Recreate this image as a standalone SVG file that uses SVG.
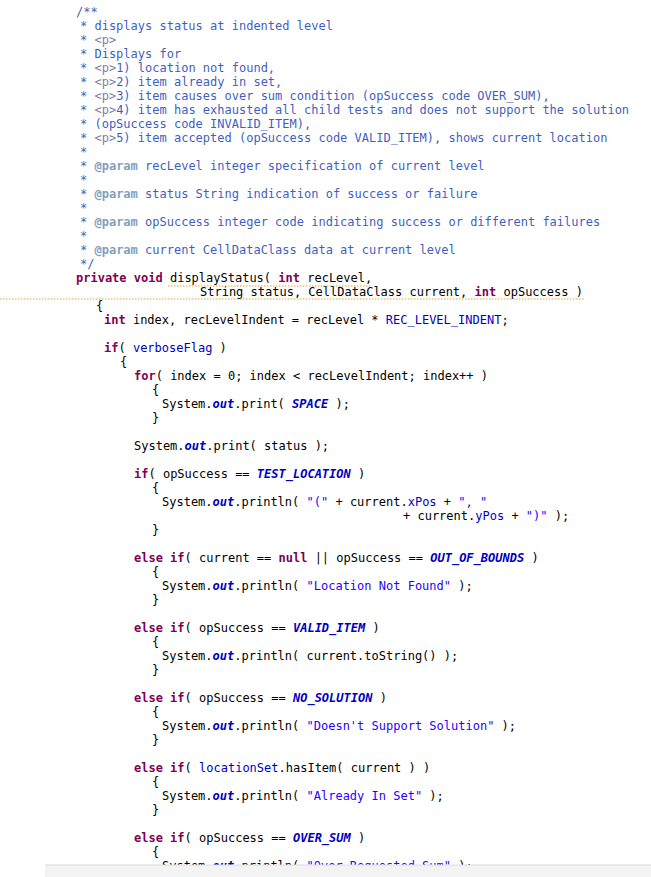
<svg xmlns="http://www.w3.org/2000/svg" width="651" height="877" viewBox="0 0 651 877">
<style>
text{font-family:"DejaVu Sans Mono","Liberation Mono",monospace;font-size:12px;fill:#000;white-space:pre}
.c{fill:#3F5FBF}.t{fill:#7F7F9F}.p{fill:#7F9FBF;font-weight:bold}
.k{fill:#7F0055;font-weight:bold}.s{fill:#2A00FF}.f{fill:#0000C0}
.o{fill:#0000C0;font-weight:bold;font-style:italic}
</style>
<rect width="651" height="877" fill="#fff"/>
<g id="javadoc" class="c">
<text x="76" y="16" class="c">/**</text>
<text x="80" y="30" class="c">* displays status at indented level</text>
<text x="80" y="44" class="c">* <tspan class="t">&lt;p&gt;</tspan></text>
<text x="80" y="58" class="c">* Displays for</text>
<text x="80" y="72" class="c">* <tspan class="t">&lt;p&gt;</tspan>1) location not found,</text>
<text x="80" y="86" class="c">* <tspan class="t">&lt;p&gt;</tspan>2) item already in set,</text>
<text x="80" y="100" class="c">* <tspan class="t">&lt;p&gt;</tspan>3) item causes over sum condition (opSuccess code OVER_SUM),</text>
<text x="80" y="114" class="c">* <tspan class="t">&lt;p&gt;</tspan>4) item has exhausted all child tests and does not support the solution</text>
<text x="80" y="128" class="c">* (opSuccess code INVALID_ITEM),</text>
<text x="80" y="142" class="c">* <tspan class="t">&lt;p&gt;</tspan>5) item accepted (opSuccess code VALID_ITEM), shows current location</text>
<text x="80" y="156" class="c">*</text>
<text x="80" y="170" class="c">* <tspan class="p">@param</tspan> recLevel integer specification of current level</text>
<text x="80" y="184" class="c">*</text>
<text x="80" y="198" class="c">* <tspan class="p">@param</tspan> status String indication of success or failure</text>
<text x="80" y="212" class="c">*</text>
<text x="80" y="226" class="c">* <tspan class="p">@param</tspan> opSuccess integer code indicating success or different failures</text>
<text x="80" y="240" class="c">*</text>
<text x="80" y="254" class="c">* <tspan class="p">@param</tspan> current CellDataClass data at current level</text>
<text x="80" y="268" class="c">*/</text>
</g>
<g id="signature">
<text x="76" y="282"><tspan class="k">private void</tspan> displayStatus( <tspan class="k">int</tspan> recLevel,</text>
<text x="200" y="296">String status, CellDataClass current, <tspan class="k">int</tspan> opSuccess )</text>
<line x1="168" y1="286" x2="370" y2="286" stroke="#E0A030" stroke-width="1" stroke-dasharray="1.5,1.5"/>
<line x1="0" y1="299" x2="584" y2="299" stroke="#E0A030" stroke-width="1" stroke-dasharray="1.5,1.5"/>
</g>
<g id="body">
<text x="96" y="310">{</text>
<text x="104" y="324"><tspan class="k">int</tspan> index, recLevelIndent = recLevel * <tspan class="f">REC_LEVEL_INDENT</tspan>;</text>
<text x="104" y="352"><tspan class="k">if</tspan>( <tspan class="f">verboseFlag</tspan> )</text>
<text x="120" y="366">{</text>
<text x="134" y="380"><tspan class="k">for</tspan>( index = 0; index &lt; recLevelIndent; index++ )</text>
<text x="152" y="394">{</text>
<text x="162" y="408">System.<tspan class="o">out</tspan>.print( <tspan class="o">SPACE</tspan> );</text>
<text x="152" y="422">}</text>
<text x="134" y="450">System.<tspan class="o">out</tspan>.print( status );</text>
<text x="134" y="478"><tspan class="k">if</tspan>( opSuccess == <tspan class="o">TEST_LOCATION</tspan> )</text>
<text x="152" y="492">{</text>
<text x="162" y="506">System.<tspan class="o">out</tspan>.println( <tspan class="s">"("</tspan> + current.<tspan class="f">xPos</tspan> + <tspan class="s">", "</tspan></text>
<text x="403" y="520">+ current.<tspan class="f">yPos</tspan> + <tspan class="s">")"</tspan> );</text>
<text x="152" y="534">}</text>
<text x="134" y="562"><tspan class="k">else if</tspan>( current == <tspan class="k">null</tspan> || opSuccess == <tspan class="o">OUT_OF_BOUNDS</tspan> )</text>
<text x="152" y="576">{</text>
<text x="162" y="590">System.<tspan class="o">out</tspan>.println( <tspan class="s">"Location Not Found"</tspan> );</text>
<text x="152" y="604">}</text>
<text x="134" y="632"><tspan class="k">else if</tspan>( opSuccess == <tspan class="o">VALID_ITEM</tspan> )</text>
<text x="152" y="646">{</text>
<text x="162" y="660">System.<tspan class="o">out</tspan>.println( current.toString() );</text>
<text x="152" y="674">}</text>
<text x="134" y="702"><tspan class="k">else if</tspan>( opSuccess == <tspan class="o">NO_SOLUTION</tspan> )</text>
<text x="152" y="716">{</text>
<text x="162" y="730">System.<tspan class="o">out</tspan>.println( <tspan class="s">"Doesn't Support Solution"</tspan> );</text>
<text x="152" y="744">}</text>
<text x="134" y="772"><tspan class="k">else if</tspan>( <tspan class="f">locationSet</tspan>.hasItem( current ) )</text>
<text x="152" y="786">{</text>
<text x="162" y="800">System.<tspan class="o">out</tspan>.println( <tspan class="s">"Already In Set"</tspan> );</text>
<text x="152" y="814">}</text>
<text x="134" y="842"><tspan class="k">else if</tspan>( opSuccess == <tspan class="o">OVER_SUM</tspan> )</text>
<text x="152" y="856">{</text>
<text x="162" y="870">System.<tspan class="o">out</tspan>.println( <tspan class="s">"Over Requested Sum"</tspan> );</text>
</g>
<rect x="45" y="865" width="606" height="12" fill="#F3F3F3"/>
<line x1="45" y1="865" x2="651" y2="865" stroke="#DDD"/>
</svg>
